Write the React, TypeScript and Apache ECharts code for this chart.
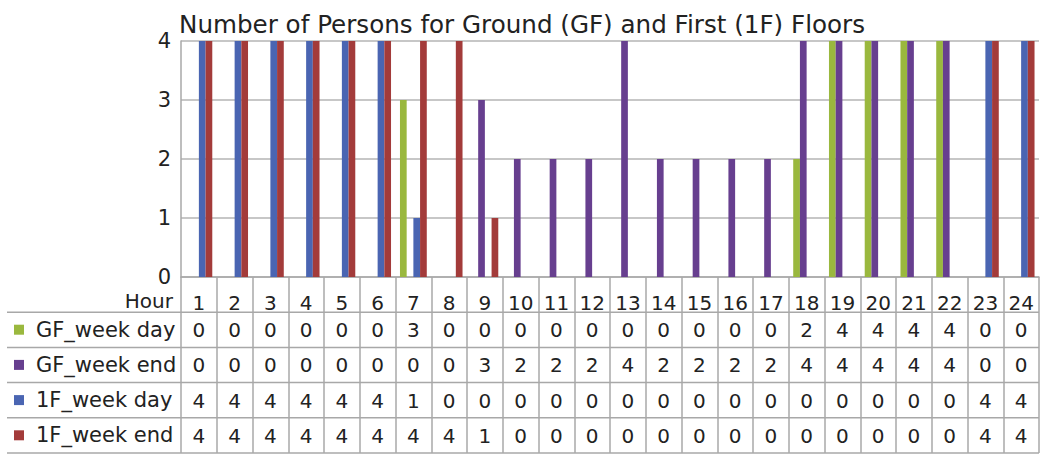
import React, { useEffect, useRef } from "react";
import * as echarts from "echarts";

const TITLE = "Number of Persons for Ground (GF) and First (1F) Floors";
const HOURS = ["1","2","3","4","5","6","7","8","9","10","11","12","13","14","15","16","17","18","19","20","21","22","23","24"];
const SERIES_NAMES = ["GF_week day", "GF_week end", "1F_week day", "1F_week end"];
const GF_WEEK_DAY = [0,0,0,0,0,0,3,0,0,0,0,0,0,0,0,0,0,2,4,4,4,4,0,0];
const GF_WEEK_END = [0,0,0,0,0,0,0,0,3,2,2,2,4,2,2,2,2,4,4,4,4,4,0,0];
const F1_WEEK_DAY = [4,4,4,4,4,4,1,0,0,0,0,0,0,0,0,0,0,0,0,0,0,0,4,4];
const F1_WEEK_END = [4,4,4,4,4,4,4,4,1,0,0,0,0,0,0,0,0,0,0,0,0,0,4,4];
const Y_TICKS = [0, 1, 2, 3, 4];
const COLORS = ["#9AB83E", "#673F8F", "#4A65B2", "#A33B3A"];

const FONT = "'DejaVu Sans', 'Open Sans', sans-serif";

export default function App() {
  const ref = useRef<HTMLDivElement>(null);
  useEffect(() => {
    if (!ref.current) return;
    const chart = echarts.init(ref.current, null, { renderer: "svg" });
    const values = [GF_WEEK_DAY, GF_WEEK_END, F1_WEEK_DAY, F1_WEEK_END];
    const gridLeft = 181;
    const gridRight = 1039;
    const gridTop = 41;
    const axisY = 277;
    const rowH = 35.2;
    const gray = "#a8a8a8";

    const tableAxes = values.map((vals, i) => ({
      type: "category",
      data: HOURS,
      gridIndex: 0,
      position: "bottom",
      offset: rowH * (i + 1),
      axisLine: { show: false },
      axisTick: { show: false },
      splitLine: { show: false },
      axisLabel: {
        interval: 0,
        margin: 8,
        fontSize: 20,
        fontFamily: FONT,
        color: "#222",
        formatter: (_v: string, idx: number) => String(vals[idx]),
      },
    }));

    const rowLines = [1, 2, 3, 4, 5].map((k) => ({
      type: "line",
      shape: { x1: 7, y1: axisY + rowH * k, x2: gridRight, y2: axisY + rowH * k },
      style: { stroke: gray, lineWidth: 1.5 },
      z: 10,
    }));

    chart.setOption({
      animation: false,
      backgroundColor: "#fff",
      textStyle: { fontFamily: FONT },
      title: {
        text: TITLE,
        left: 174,
        top: 7,
        textStyle: { fontSize: 24.6, fontWeight: "normal", color: "#222", fontFamily: FONT },
      },
      legend: {
        orient: "vertical",
        left: 14,
        top: axisY + rowH + 7,
        padding: 0,
        height: 160,
        itemGap: 14.2,
        itemWidth: 10,
        itemHeight: 10,
        icon: "rect",
        selectedMode: false,
        data: SERIES_NAMES,
        textStyle: { fontSize: 21, color: "#222", fontFamily: FONT, padding: [0, 0, 0, 7] },
      },
      grid: {
        left: gridLeft,
        right: 1041 - gridRight,
        top: gridTop,
        bottom: 455 - axisY,
        containLabel: false,
      },
      xAxis: [
        {
          type: "category",
          data: HOURS,
          position: "bottom",
          axisLine: { show: true, lineStyle: { color: gray, width: 1.5 } },
          axisTick: {
            show: true,
            interval: 0,
            length: rowH * 5,
            lineStyle: { color: gray, width: 1.5 },
          },
          axisLabel: {
            interval: 0,
            margin: 16,
            fontSize: 20,
            fontFamily: FONT,
            color: "#222",
          },
        },
        ...tableAxes,
      ],
      yAxis: {
        type: "value",
        min: 0,
        max: 4,
        interval: 1,
        axisLine: { show: true, lineStyle: { color: gray, width: 1.5 } },
        axisTick: { show: false },
        splitLine: { show: true, lineStyle: { color: "#b4b4b4", width: 1.5 } },
        axisLabel: {
          fontSize: 21,
          fontFamily: FONT,
          color: "#222",
          margin: 10,
          formatter: (v: number) => (Y_TICKS.includes(v) ? String(v) : ""),
        },
      },
      graphic: [
        ...rowLines,
        {
          type: "text",
          right: 1041 - 173,
          top: axisY + 14,
          style: { text: "Hour", fontSize: 20, fontFamily: FONT, fill: "#222" },
        },
      ],
      series: values.map((vals, i) => ({
        name: SERIES_NAMES[i],
        type: "bar",
        xAxisIndex: 0,
        data: vals,
        barGap: "0%",
        barCategoryGap: "25%",
        itemStyle: { color: COLORS[i] },
      })),
    });
    return () => chart.dispose();
  }, []);
  return (
    <div
      ref={ref}
      style={{ position: "fixed", left: 0, top: 0, width: 1041, height: 455, background: "#fff" }}
    />
  );
}
